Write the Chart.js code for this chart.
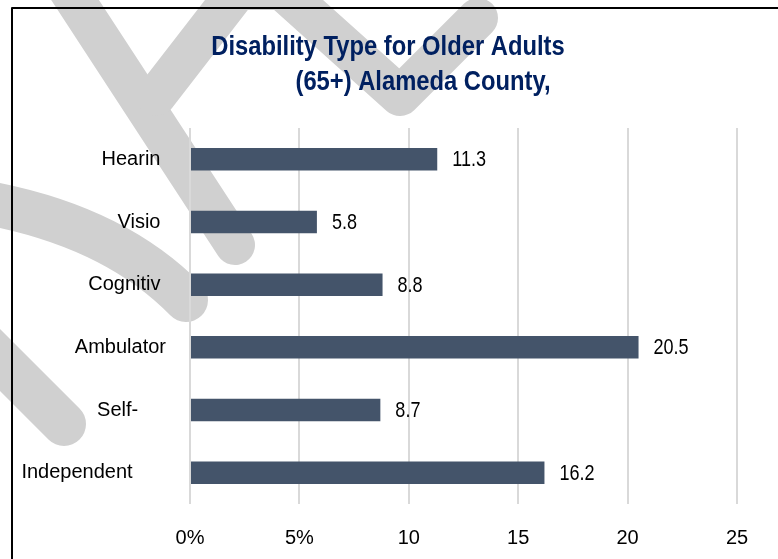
<!DOCTYPE html>
<html>
<head>
<meta charset="utf-8">
<script src="https://cdn.jsdelivr.net/npm/chart.js@4/dist/chart.umd.min.js"></script>
<style>
  html, body { margin: 0; padding: 0; background: #ffffff; }
  #wrap { position: relative; width: 778px; height: 559px; }
</style>
</head>
<body>
<div id="wrap"><canvas id="c" width="778" height="559"></canvas></div>
<script>
// ---- data ----
const categories = ['Hearin', 'Visio', 'Cognitiv', 'Ambulator', 'Self-', 'Independent'];
const values = [11.3, 5.8, 8.8, 20.5, 8.7, 16.2];
const xTickLabels = ['0%', '5%', '10', '15', '20', '25'];
const titleLines = ['Disability Type for Older Adults', '(65+) Alameda County,'];

// ---- fonts ----
function hasFont(name) {
  const c = document.createElement('canvas').getContext('2d');
  c.font = '40px monospace';
  const w1 = c.measureText('Independent mmm').width;
  c.font = '40px "' + name + '", monospace';
  const w2 = c.measureText('Independent mmm').width;
  return Math.abs(w1 - w2) > 0.5;
}
const NARROW = hasFont('Liberation Sans Narrow');
const FAMILY = NARROW ? '"Liberation Sans Narrow", "Liberation Sans", Arial, sans-serif'
                      : '"Liberation Sans", Arial, sans-serif';
const TICK_SIZE = NARROW ? 23 : 20;
const SQUEEZE = NARROW ? 1 : 0.82;        // horizontal condensing for plugin-drawn text
const TITLE_SQUEEZE = NARROW ? 1 : 0.88;
const TITLE_SIZE = NARROW ? 29 : 27;
const VALUE_SIZE = NARROW ? 23 : 22;

function condensedText(ctx, text, x, y, sx) {
  ctx.save();
  ctx.translate(x, y);
  ctx.scale(sx, 1);
  ctx.fillText(text, 0, 0);
  ctx.restore();
}

// ---- decorative background (watermark strokes + frame) ----
const backdrop = {
  id: 'backdrop',
  beforeDraw(chart) {
    const ctx = chart.ctx;
    ctx.save();
    ctx.strokeStyle = '#d0d0d0';
    ctx.lineCap = 'round';
    ctx.lineJoin = 'round';
    ctx.lineWidth = 40;
    ctx.beginPath(); ctx.moveTo(62, -20); ctx.lineTo(235, 245); ctx.stroke();
    ctx.beginPath();
    ctx.moveTo(156, 96); ctx.lineTo(238, -10); ctx.lineTo(282, -10);
    ctx.lineTo(400, 96); ctx.lineTo(478, 18);
    ctx.stroke();
    ctx.lineWidth = 44;
    ctx.beginPath(); ctx.moveTo(-30, 200); ctx.quadraticCurveTo(110, 222, 186, 300); ctx.stroke();
    ctx.beginPath(); ctx.moveTo(-30, 330); ctx.lineTo(64, 424); ctx.stroke();
    ctx.lineCap = 'butt';
    ctx.strokeStyle = '#000000';
    ctx.lineWidth = 2;
    ctx.strokeRect(12, 8, 900, 700);
    ctx.restore();
  }
};

// ---- title + value labels ----
const overlay = {
  id: 'overlay',
  afterDatasetsDraw(chart) {
    const ctx = chart.ctx;
    ctx.save();
    // values at bar ends
    ctx.fillStyle = '#000000';
    ctx.font = VALUE_SIZE + 'px ' + FAMILY;
    ctx.textAlign = 'left';
    ctx.textBaseline = 'middle';
    const meta = chart.getDatasetMeta(0);
    meta.data.forEach((bar, i) => {
      condensedText(ctx, String(values[i]), bar.x + 15, bar.y + 1, SQUEEZE);
    });
    // title
    ctx.fillStyle = '#002060';
    ctx.font = 'bold ' + TITLE_SIZE + 'px ' + FAMILY;
    ctx.textAlign = 'center';
    ctx.textBaseline = 'alphabetic';
    condensedText(ctx, titleLines[0], 388, 55, TITLE_SQUEEZE);
    condensedText(ctx, titleLines[1], 423, 90, TITLE_SQUEEZE);
    ctx.restore();
  }
};

const labelPad = { 'Self-': 30, 'Independent': 31, 'Hearin': 4, 'Visio': 6, 'Cognitiv': 3 };

new Chart(document.getElementById('c'), {
  type: 'bar',
  data: {
    labels: categories,
    datasets: [{
      data: values,
      backgroundColor: '#44546a',
      borderWidth: 0,
      barPercentage: 0.36,
      categoryPercentage: 1.0
    }]
  },
  options: {
    indexAxis: 'y',
    responsive: false,
    animation: false,
    devicePixelRatio: 1,
    layout: { padding: { top: 128, right: 41, left: 0, bottom: 0 } },
    plugins: {
      legend: { display: false },
      title: { display: false },
      tooltip: { enabled: false }
    },
    scales: {
      x: {
        min: 0, max: 25,
        ticks: {
          stepSize: 5,
          padding: 22,
          color: '#000000',
          font: { family: FAMILY, size: TICK_SIZE },
          callback: (v, i) => xTickLabels[i]
        },
        grid: { color: '#d9d9d9', lineWidth: 2, drawTicks: false },
        border: { display: false },
        afterFit: (s) => { s.height = 55; }
      },
      y: {
        ticks: {
          padding: 24,
          color: '#000000',
          font: { family: FAMILY, size: TICK_SIZE },
          callback: function (v, i) {
            const t = categories[i];
            const pad = labelPad[t] || 0;
            return t + ' '.repeat(Math.round(pad / (TICK_SIZE * 0.278)));
          }
        },
        grid: { display: false, drawTicks: false },
        border: { display: false },
        afterFit: (s) => { s.width = 190; }
      }
    }
  },
  plugins: [backdrop, overlay]
});
</script>
</body>
</html>
